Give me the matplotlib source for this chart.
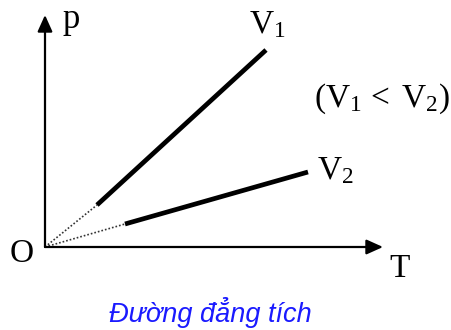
import matplotlib
matplotlib.use("Agg")
import matplotlib.pyplot as plt

plt.rcParams['mathtext.fontset'] = 'custom'
plt.rcParams['mathtext.rm'] = 'Liberation Serif'
plt.rcParams['mathtext.it'] = 'Liberation Serif:italic'

# Isochoric lines p = k*T (origin at O)
V1_T = [52, 221]
V1_p = [42, 197]
V2_T = [80, 263]
V2_p = [23, 75]
origin = (0, 0)
T_axis_end = 338
p_axis_end = 232

fig = plt.figure(figsize=(4.52, 3.30), dpi=100)
ax = fig.add_axes([0, 0, 1, 1])
ax.set_xlim(-45, 407)
ax.set_ylim(-83, 247)
ax.axis('off')

# axes with arrows
ax.annotate('', xy=(T_axis_end, 0), xytext=origin,
            arrowprops=dict(arrowstyle='-|>,head_length=1.0,head_width=0.45',
                            lw=1.6, color='black', shrinkA=0, shrinkB=0))
ax.annotate('', xy=(0, p_axis_end), xytext=origin,
            arrowprops=dict(arrowstyle='-|>,head_length=1.0,head_width=0.45',
                            lw=1.6, color='black', shrinkA=0, shrinkB=0))

# dotted extrapolation to origin
ax.plot([0, V1_T[0]], [0, V1_p[0]], linestyle=(0, (1, 1.2)), color='#333333', lw=1.2)
ax.plot([0, V2_T[0]], [0, V2_p[0]], linestyle=(0, (1, 1.2)), color='#333333', lw=1.2)
# solid isochores
ax.plot(V1_T, V1_p, color='black', lw=3.4, solid_capstyle='butt')
ax.plot(V2_T, V2_p, color='black', lw=3.4, solid_capstyle='butt')

serif = dict(family='Liberation Serif', color='black')
ax.text(18, 227, 'p', fontsize=25, ha='left', va='center', **serif)
ax.text(-23, -7, 'O', fontsize=24, ha='center', va='center', **serif)
ax.text(355, -22, 'T', fontsize=24, ha='center', va='center', **serif)
ax.text(204, 222, r'$\mathrm{V}_1$', fontsize=24, ha='left', va='center', **serif)
ax.text(272, 76, r'$\mathrm{V}_2$', fontsize=24, ha='left', va='center', **serif)
ax.text(337, 148, r'$(\mathrm{V}_1\,{<}\;\mathrm{V}_2)$', fontsize=24, ha='center', va='center', **serif)

ax.text(165, -66, 'Đường đẳng tích', fontsize=19.5, style='italic',
        family='Liberation Sans', color='#1a1aff', ha='center', va='center')

fig.savefig('out.png', dpi=100)
